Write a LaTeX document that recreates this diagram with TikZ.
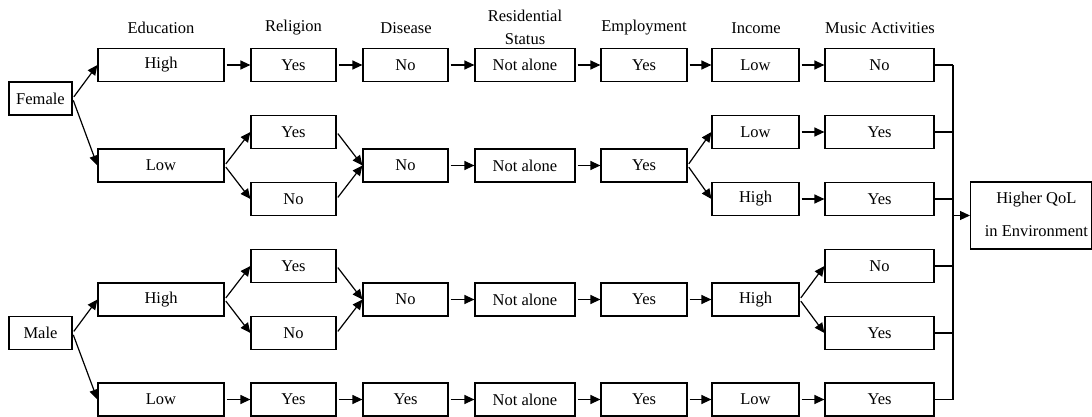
\documentclass[tikz,border=0pt]{standalone}
\usepackage{fontspec}
\setmainfont{Liberation Serif}
\usetikzlibrary{arrows.meta}
\begin{document}
\begin{tikzpicture}[x=1pt,y=-1pt,
  box/.style={draw, line width=1.2pt, minimum height=33pt, inner sep=0pt, font=\fontsize{16.5}{20}\selectfont},
  wF/.style={box, minimum width=63pt},
  wE/.style={box, minimum width=126pt},
  wR/.style={box, minimum width=85pt},
  wD/.style={box, minimum width=85pt},
  wS/.style={box, minimum width=100pt},
  wM/.style={box, minimum width=86pt},
  wI/.style={box, minimum width=87pt},
  wA/.style={box, minimum width=109pt},
  hdr/.style={font=\fontsize{16.5}{23}\selectfont, inner sep=0pt, align=center},
  arr/.style={-{Triangle[length=10pt,width=9pt]}, line width=1.2pt, shorten <=2pt},
  link/.style={line width=1.2pt}]
\useasboundingbox (0,0) rectangle (1092,417);
% headers
\node[hdr] (hE) at (161,28) {Education};
\node[hdr] (hR) at (293.5,28) {Religion};
\node[hdr] (hD) at (406,28) {Disease};
\node[hdr] (hS) at (525,27) {Residential\\Status};
\node[hdr] (hM) at (644,28) {Employment};
\node[hdr] (hI) at (756,28) {Income};
\node[hdr] (hA) at (880,28) {Music Activities};
% left
\node[wF] (fem) at (40.5,98.5) {Female};
\node[wF] (mal) at (40.5,333) {Male};
% row 1
\node[wE] (eH1) at (161,65) {High};
\node[wR] (rY1) at (293.5,65) {Yes};
\node[wD] (dN1) at (405.5,65) {No};
\node[wS] (sN1) at (525,65) {Not alone};
\node[wM] (mY1) at (644,65) {Yes};
\node[wI] (iL1) at (755.5,65) {Low};
\node[wA] (aN1) at (879.5,65) {No};
% female low
\node[wE] (eL2) at (161,165.5) {Low};
\node[wR] (rY2) at (293.5,132) {Yes};
\node[wR] (rN2) at (293.5,199) {No};
\node[wD] (dN2) at (405.5,165.5) {No};
\node[wS] (sN2) at (525,165.5) {Not alone};
\node[wM] (mY2) at (644,165.5) {Yes};
\node[wI] (iL2) at (755.5,132) {Low};
\node[wI] (iH2) at (755.5,199) {High};
\node[wA] (aY2) at (879.5,132) {Yes};
\node[wA] (aY3) at (879.5,199) {Yes};
% male high
\node[wE] (eH3) at (161,299.5) {High};
\node[wR] (rY3) at (293.5,266) {Yes};
\node[wR] (rN3) at (293.5,333) {No};
\node[wD] (dN3) at (405.5,299.5) {No};
\node[wS] (sN3) at (525,299.5) {Not alone};
\node[wM] (mY3) at (644,299.5) {Yes};
\node[wI] (iH3) at (755.5,299.5) {High};
\node[wA] (aN4) at (879.5,266) {No};
\node[wA] (aY4) at (879.5,333) {Yes};
% male low
\node[wE] (eL4) at (161,399.5) {Low};
\node[wR] (rY4) at (293.5,399.5) {Yes};
\node[wD] (dY4) at (405.5,399.5) {Yes};
\node[wS] (sN4) at (525,399.5) {Not alone};
\node[wM] (mY4) at (644,399.5) {Yes};
\node[wI] (iL4) at (755.5,399.5) {Low};
\node[wA] (aY5) at (879.5,399.5) {Yes};
% result
\node[box, anchor=west, minimum height=67pt] (qol) at (970,215.5)
  {\hspace*{11pt}\makebox[109.5pt]{\begin{tabular}{@{}c@{}}Higher QoL\\[13pt]in Environment\end{tabular}}};
\coordinate (busx) at (953,0);
% female arrows
\draw[arr] (fem.east) -- (eH1.west);
\draw[arr] (fem.east) -- (eL2.west);
\draw[arr] (eH1) -- (rY1);
\draw[arr] (rY1) -- (dN1);
\draw[arr] (dN1) -- (sN1);
\draw[arr] (sN1) -- (mY1);
\draw[arr] (mY1) -- (iL1);
\draw[arr] (iL1) -- (aN1);
\draw[arr] (eL2.east) -- (rY2.west);
\draw[arr] (eL2.east) -- (rN2.west);
\draw[arr] (rY2.east) -- (dN2.west);
\draw[arr] (rN2.east) -- (dN2.west);
\draw[arr] (dN2) -- (sN2);
\draw[arr] (sN2) -- (mY2);
\draw[arr] (mY2.east) -- (iL2.west);
\draw[arr] (mY2.east) -- (iH2.west);
\draw[arr] (iL2) -- (aY2);
\draw[arr] (iH2) -- (aY3);
% male arrows
\draw[arr] (mal.east) -- (eH3.west);
\draw[arr] (mal.east) -- (eL4.west);
\draw[arr] (eH3.east) -- (rY3.west);
\draw[arr] (eH3.east) -- (rN3.west);
\draw[arr] (rY3.east) -- (dN3.west);
\draw[arr] (rN3.east) -- (dN3.west);
\draw[arr] (dN3) -- (sN3);
\draw[arr] (sN3) -- (mY3);
\draw[arr] (mY3) -- (iH3);
\draw[arr] (iH3.east) -- (aN4.west);
\draw[arr] (iH3.east) -- (aY4.west);
\draw[arr] (eL4) -- (rY4);
\draw[arr] (rY4) -- (dY4);
\draw[arr] (dY4) -- (sN4);
\draw[arr] (sN4) -- (mY4);
\draw[arr] (mY4) -- (iL4);
\draw[arr] (iL4) -- (aY5);
% bus
\foreach \n in {aN1,aY2,aY3,aN4,aY4,aY5}
  \draw[link] (\n.east) -- (\n.east -| busx);
\draw[link] (aN1.east -| busx) -- (aY5.east -| busx);
\draw[arr, shorten <=0pt] (qol.west -| busx) -- (qol.west);
\end{tikzpicture}
\end{document}
